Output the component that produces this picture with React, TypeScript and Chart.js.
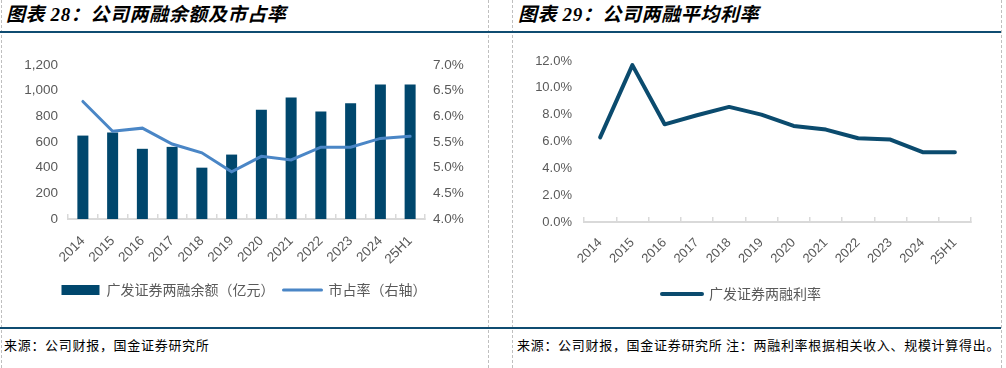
import React, { useEffect, useRef } from 'react';
import { Chart, registerables } from 'chart.js';

Chart.register(...registerables);

// ---- data ----
const categories = ['2014', '2015', '2016', '2017', '2018', '2019', '2020', '2021', '2022', '2023', '2024', '25H1'];
const marginBalance = [650, 675, 547, 562, 400, 502, 852, 946, 837, 902, 1048, 1048]; // 亿元
const marketShare = [6.29, 5.71, 5.77, 5.46, 5.29, 4.92, 5.22, 5.15, 5.4, 5.4, 5.57, 5.61]; // %
const marginRate = [6.31, 11.69, 7.28, 7.96, 8.58, 8.0, 7.16, 6.89, 6.24, 6.14, 5.2, 5.2]; // %

const barLabel = '广发证券两融余额（亿元）';
const shareLabel = '市占率（右轴）';
const rateLabel = '广发证券两融利率';

const leftTitle = '图表 28：公司两融余额及市占率';
const rightTitle = '图表 29：公司两融平均利率';
const leftSource = '来源：公司财报，国金证券研究所';
const rightSource = '来源：公司财报，国金证券研究所 注：两融利率根据相关收入、规模计算得出。';

const TICK_COLOR = '#595959';
const TICK_FONT = { family: '"Liberation Sans", Arial, sans-serif', size: 13.5 };
const LEGEND_FONT = { family: '"Noto Sans CJK SC", sans-serif', size: 14 };
const BAR_COLOR = '#00476D';
const SHARE_COLOR = '#4A86C6';
const RATE_COLOR = '#0B4B6E';
const AXIS_COLOR = '#D9D9D9';
const RULE_COLOR = '#0F4C71';

function xAxis(padding: number, fontSize: number) {
  return {
    offset: true,
    grid: {
      display: true,
      drawOnChartArea: false,
      drawTicks: true,
      tickLength: -5,
      offset: true,
      color: AXIS_COLOR,
      lineWidth: 1.5,
    },
    border: { display: true, color: AXIS_COLOR, width: 2 },
    ticks: {
      maxRotation: 45,
      minRotation: 45,
      autoSkip: false,
      padding,
      color: TICK_COLOR,
      font: { ...TICK_FONT, size: fontSize },
    },
    afterFit: (s: any) => {
      s.height = 55;
    },
  };
}

function leftConfig(): any {
  return {
    type: 'bar',
    data: {
      labels: categories,
      datasets: [
        {
          type: 'bar',
          label: barLabel,
          data: marginBalance,
          backgroundColor: BAR_COLOR,
          borderWidth: 0,
          yAxisID: 'y',
          order: 1,
          categoryPercentage: 1,
          barPercentage: 0.37,
        },
        {
          type: 'line',
          label: shareLabel,
          data: marketShare,
          borderColor: SHARE_COLOR,
          backgroundColor: SHARE_COLOR,
          borderWidth: 3,
          borderCapStyle: 'round',
          pointRadius: 0,
          tension: 0,
          yAxisID: 'y1',
          order: 0,
        },
      ],
    },
    options: {
      responsive: false,
      maintainAspectRatio: false,
      animation: false,
      events: [],
      layout: { padding: { top: 25, bottom: 8, left: 0, right: 0 } },
      plugins: {
        tooltip: { enabled: false },
        legend: {
          position: 'bottom',
          labels: {
            usePointStyle: true,
            pointStyleWidth: 38,
            boxHeight: 10,
            padding: 9,
            color: TICK_COLOR,
            font: LEGEND_FONT,
            sort: (a: any, b: any) => a.datasetIndex - b.datasetIndex,
            generateLabels: (chart: any) => {
              const items = Chart.defaults.plugins.legend.labels.generateLabels(chart);
              items.forEach((it: any) => {
                it.pointStyle = it.datasetIndex === 0 ? 'rect' : 'line';
                if (it.datasetIndex === 1) it.lineCap = 'round';
              });
              return items;
            },
          },
        },
      },
      scales: {
        x: xAxis(19, 13.5),
        y: {
          position: 'left',
          min: 0,
          max: 1200,
          ticks: {
            stepSize: 200,
            padding: 10,
            color: TICK_COLOR,
            font: TICK_FONT,
            callback: (v: any) => Number(v).toLocaleString('en-US'),
          },
          grid: { display: false, drawTicks: false },
          border: { display: false },
          afterFit: (s: any) => {
            s.width = 68;
          },
        },
        y1: {
          position: 'right',
          min: 4,
          max: 7,
          ticks: {
            stepSize: 0.5,
            padding: 8,
            color: TICK_COLOR,
            font: TICK_FONT,
            callback: (v: any) => Number(v).toFixed(1) + '%',
          },
          grid: { display: false, drawTicks: false },
          border: { display: false },
          afterFit: (s: any) => {
            s.width = 63;
          },
        },
      },
    },
  };
}

function rightConfig(): any {
  return {
    type: 'line',
    data: {
      labels: categories,
      datasets: [
        {
          label: rateLabel,
          data: marginRate,
          borderColor: RATE_COLOR,
          backgroundColor: RATE_COLOR,
          borderWidth: 4,
          borderCapStyle: 'round',
          borderJoinStyle: 'round',
          pointRadius: 0,
          tension: 0,
        },
      ],
    },
    options: {
      responsive: false,
      maintainAspectRatio: false,
      animation: false,
      events: [],
      layout: { padding: { top: 21, bottom: 4, left: 0, right: 29 } },
      plugins: {
        tooltip: { enabled: false },
        legend: {
          position: 'bottom',
          labels: {
            usePointStyle: true,
            pointStyleWidth: 40,
            boxHeight: 10,
            padding: 10,
            color: TICK_COLOR,
            font: LEGEND_FONT,
            generateLabels: (chart: any) => {
              const items = Chart.defaults.plugins.legend.labels.generateLabels(chart);
              items.forEach((it: any) => {
                it.pointStyle = 'line';
                it.lineCap = 'round';
              });
              return items;
            },
          },
        },
      },
      scales: {
        x: xAxis(18, 13),
        y: {
          min: 0,
          max: 12,
          ticks: {
            stepSize: 2,
            padding: 12,
            color: TICK_COLOR,
            font: { ...TICK_FONT, size: 13 },
            callback: (v: any) => Number(v).toFixed(1) + '%',
          },
          grid: { display: false, drawTicks: false },
          border: { display: false },
          afterFit: (s: any) => {
            s.width = 72;
          },
        },
      },
    },
  };
}

function ChartBox(props: { make: () => any; left: number; top: number; width: number; height: number }) {
  const ref = useRef<HTMLCanvasElement | null>(null);
  useEffect(() => {
    const chart = new Chart(ref.current as HTMLCanvasElement, props.make());
    return () => chart.destroy();
  }, []);
  return (
    <div style={{ position: 'absolute', left: props.left, top: props.top, width: props.width, height: props.height }}>
      <canvas
        ref={ref}
        width={props.width}
        height={props.height}
        style={{ width: props.width, height: props.height, display: 'block' }}
      />
    </div>
  );
}

const titleStyle: React.CSSProperties = {
  position: 'absolute',
  top: 2,
  fontFamily: '"Liberation Serif", "Noto Sans CJK SC", serif',
  fontWeight: 'bold',
  fontStyle: 'italic',
  fontSize: 19,
  lineHeight: '26px',
  letterSpacing: 0.6,
  color: '#000',
  whiteSpace: 'nowrap',
};

const sourceStyle: React.CSSProperties = {
  position: 'absolute',
  top: 336,
  fontFamily: '"Noto Sans CJK SC", sans-serif',
  fontSize: 13,
  lineHeight: '18px',
  letterSpacing: 0.7,
  color: '#000',
  whiteSpace: 'nowrap',
};

function VDash({ x }: { x: number }) {
  return (
    <div
      style={{ position: 'absolute', left: x, top: 0, width: 0, height: 368, borderLeft: '1px dashed #BFBFBF' }}
    />
  );
}

export default function App() {
  return (
    <div
      style={{
        position: 'fixed',
        left: 0,
        top: 0,
        width: 1006,
        height: 368,
        background: '#fff',
        overflow: 'hidden',
      }}
    >
      <VDash x={1} />
      <VDash x={488} />
      <VDash x={512} />
      <VDash x={1001} />
      <div style={{ position: 'absolute', left: 0, top: 31, width: 1001, height: 2, background: RULE_COLOR }} />
      <div style={{ position: 'absolute', left: 0, top: 327, width: 1001, height: 2, background: RULE_COLOR }} />
      <div style={{ ...titleStyle, left: 6 }}>{leftTitle}</div>
      <div style={{ ...titleStyle, left: 518 }}>{rightTitle}</div>
      <ChartBox make={leftConfig} left={0} top={40} width={488} height={275} />
      <ChartBox make={rightConfig} left={512} top={40} width={488} height={275} />
      <div style={{ ...sourceStyle, left: 4 }}>{leftSource}</div>
      <div style={{ ...sourceStyle, left: 517 }}>{rightSource}</div>
    </div>
  );
}
